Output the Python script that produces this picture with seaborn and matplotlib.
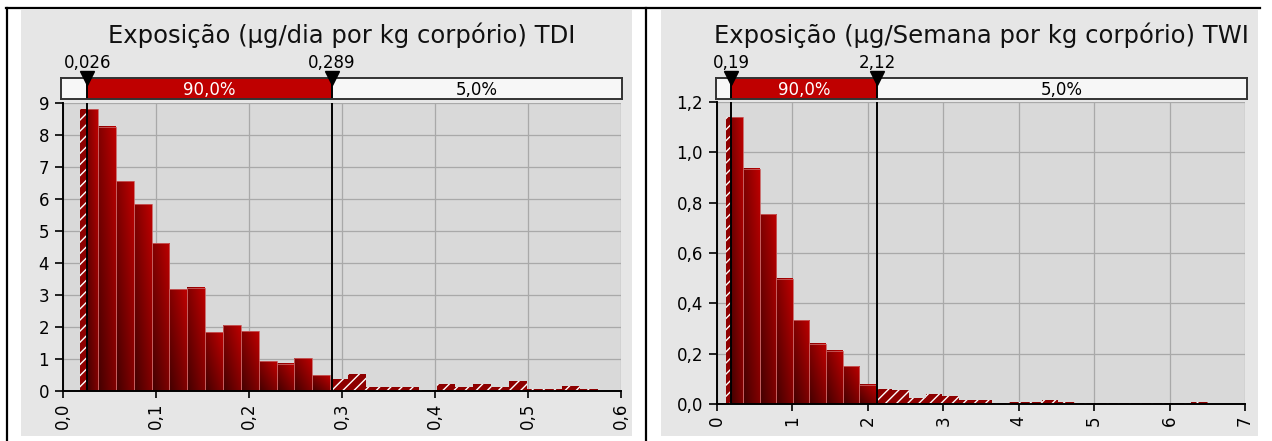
import numpy as np
import pandas as pd
import matplotlib
matplotlib.use("Agg")
import matplotlib.pyplot as plt
from matplotlib.patches import Rectangle
from matplotlib.lines import Line2D
from matplotlib.ticker import FuncFormatter
import seaborn as sns

# ---- data ----
# TDI: exposure (ug/day per kg body weight)
tdi_title = "Exposição (µg/dia por kg corpório) TDI"
tdi_bin_start = 0.0185
tdi_bin_width = 0.0192
tdi_heights = [8.81, 8.26, 6.55, 5.84, 4.62, 3.18, 3.23, 1.83, 2.06, 1.87,
               0.93, 0.85, 1.03, 0.49, 0.37, 0.54, 0.125, 0.125, 0.125, 0.04,
               0.23, 0.125, 0.23, 0.125, 0.31, 0.06, 0.06, 0.15, 0.06]
tdi_p5, tdi_p95 = 0.026, 0.289
tdi_p5_label, tdi_p95_label = "0,026", "0,289"
tdi_xticks = [0.0, 0.1, 0.2, 0.3, 0.4, 0.5, 0.6]
tdi_yticks = [0, 1, 2, 3, 4, 5, 6, 7, 8, 9]

# TWI: exposure (ug/week per kg body weight)
twi_title = "Exposição (µg/Semana por kg corpório) TWI"
twi_bin_start = 0.125
twi_bin_width = 0.22
twi_heights = [1.14, 0.934, 0.753, 0.498, 0.332, 0.24, 0.212, 0.15, 0.076, 0.058,
               0.054, 0.025, 0.038, 0.032, 0.015, 0.015, 0.003, 0.008, 0.009, 0.015,
               0.009, 0.003, 0.002, 0.002, 0.002, 0.002, 0.002, 0.003, 0.009]
twi_p5, twi_p95 = 0.19, 2.12
twi_p5_label, twi_p95_label = "0,19", "2,12"
twi_xticks = [0, 1, 2, 3, 4, 5, 6, 7]
twi_yticks = [0.0, 0.2, 0.4, 0.6, 0.8, 1.0, 1.2]

band_label = "90,0%"
tail_label = "5,0%"

W, H = 1272, 441
RED = "#bf0000"
HATCH_RED = "#8e0000"
PANEL_BG = "#e6e6e6"
PLOT_BG = "#d9d9d9"

plt.rcParams["font.family"] = ["DejaVu Sans"]
plt.rcParams["hatch.color"] = "white"
plt.rcParams["hatch.linewidth"] = 1.0

fig = plt.figure(figsize=(W / 100, H / 100), dpi=100)
fig.patch.set_facecolor("white")


def px_axes(x0, y0, x1, y1):
    return fig.add_axes([x0 / W, 1 - y1 / H, (x1 - x0) / W, (y1 - y0) / H])


def comma(fmt):
    return FuncFormatter(lambda v, pos: fmt.format(v).replace(".", ","))


# gradient used for the bars inside the 90% band
gy, gx = np.mgrid[0:1:48j, 0:1:48j]
t = 0.5 * gx + 0.5 * gy
dark = np.array([0.26, 0.0, 0.0])
bright = np.array([0.74, 0.0, 0.0])
grad = dark + (bright - dark) * t[..., None]


def draw_panel(frame, plot_px, box_px, heights, start, width, lo, hi,
               lo_lab, hi_lab, xticks, yticks, xfmt, yfmt, title):
    x0, x1 = xticks[0], xticks[-1]
    y1 = yticks[-1]
    # panel background
    fig.add_artist(Rectangle((frame[0] / W, 1 - frame[3] / H),
                             (frame[2] - frame[0]) / W, (frame[3] - frame[1]) / H,
                             transform=fig.transFigure, facecolor=PANEL_BG,
                             edgecolor="none", zorder=0))

    ax = px_axes(*plot_px)
    ax.set_facecolor(PLOT_BG)
    edges = [start + width * i for i in range(len(heights) + 1)]
    df = pd.DataFrame({
        "center": [(a + b) / 2 for a, b in zip(edges[:-1], edges[1:])],
        "height": heights,
    })

    # all bars hatched first (tails), band bars painted over them
    sns.histplot(data=df, x="center", weights="height", bins=edges, ax=ax,
                 stat="count", facecolor=HATCH_RED, edgecolor="white",
                 linewidth=0, hatch="///", alpha=1, zorder=1)
    n0 = len(ax.patches)
    sns.histplot(data=df, x="center", weights="height", bins=edges, ax=ax,
                 stat="count", facecolor="none", edgecolor="#c86060",
                 linewidth=0.6, alpha=1, zorder=2.5)
    clip = Rectangle((lo, 0), hi - lo, y1 * 2, transform=ax.transData)
    for p in ax.patches[n0:]:
        p.set_clip_path(clip)
        bx0 = max(p.get_x(), lo)
        bx1 = min(p.get_x() + p.get_width(), hi)
        if bx1 > bx0 and p.get_height() > 0:
            ax.imshow(grad, extent=(bx0, bx1, 0, p.get_height()), origin="lower",
                      aspect="auto", interpolation="bilinear", zorder=2)

    for v in (lo, hi):
        ax.axvline(v, color="black", lw=1.4, zorder=3)

    ax.set_xlim(x0, x1)
    ax.set_ylim(0, y1)
    ax.set_xticks(xticks)
    ax.set_yticks(yticks)
    ax.xaxis.set_major_formatter(comma(xfmt))
    ax.yaxis.set_major_formatter(comma(yfmt))
    ax.set_xlabel("")
    ax.set_ylabel("")
    ax.grid(True, color="#a9a9a9", lw=0.9)
    ax.set_axisbelow(True)
    for s in ("top", "right"):
        ax.spines[s].set_visible(False)
    for s in ("left", "bottom"):
        ax.spines[s].set_linewidth(1.4)
        ax.spines[s].set_color("black")
    ax.tick_params(axis="y", direction="out", length=6, width=1.2, pad=4, labelsize=12)
    ax.tick_params(axis="x", direction="out", length=5, width=1.2, pad=3.5,
                   labelsize=12, labelrotation=90)

    # percentile strip above the plot
    bx = px_axes(*box_px)
    px_per_unit = (plot_px[2] - plot_px[0]) / (x1 - x0)
    bxl = x0 - (plot_px[0] - box_px[0]) / px_per_unit
    bxr = x1 + (box_px[2] - plot_px[2]) / px_per_unit
    bx.set_xlim(bxl, bxr)
    bx.set_ylim(0, 1)
    bx.set_facecolor("#f7f7f7")
    bx.set_xticks([])
    bx.set_yticks([])
    for s in bx.spines.values():
        s.set_color("#333333")
        s.set_linewidth(1.4)
    bx.axvspan(lo, hi, color=RED, lw=0)
    for v, lab in ((lo, lo_lab), (hi, hi_lab)):
        bx.axvline(v, color="black", lw=1.4)
        bx.plot([v], [1.0], marker="v", color="black", markersize=10, clip_on=False,
                zorder=5)
        bx.annotate(lab, (v, 1.0), xytext=(0, 11), textcoords="offset points",
                    ha="center", va="center", fontsize=12, color="black",
                    annotation_clip=False)
    bx.text((lo + hi) / 2, 0.45, band_label, ha="center", va="center",
            fontsize=12, color="white")
    bx.text((hi + bxr) / 2, 0.45, tail_label, ha="center", va="center",
            fontsize=12, color="black")
    bx.text(0.5, 1 + 35 / (box_px[3] - box_px[1]), title, transform=bx.transAxes,
            ha="center", va="baseline", fontsize=17.5, color="#111111")
    return ax


draw_panel((21, 10, 632, 436), (63, 103, 621, 391), (61, 78, 622, 99),
           tdi_heights, tdi_bin_start, tdi_bin_width, tdi_p5, tdi_p95,
           tdi_p5_label, tdi_p95_label, tdi_xticks, tdi_yticks,
           "{:.1f}", "{:.0f}", tdi_title)
draw_panel((661, 10, 1258, 436), (717, 102, 1245, 404), (716, 78, 1247, 99),
           twi_heights, twi_bin_start, twi_bin_width, twi_p5, twi_p95,
           twi_p5_label, twi_p95_label, twi_xticks, twi_yticks,
           "{:.0f}", "{:.1f}", twi_title)

# table borders
for xs, ys in (([6, 1260], [8, 8]), ([7, 7], [8, 441]), ([646, 646], [8, 441])):
    fig.add_artist(Line2D([x / W for x in xs], [1 - y / H for y in ys],
                          transform=fig.transFigure, color="black", lw=1.6))

fig.savefig("out.png", dpi=100)
